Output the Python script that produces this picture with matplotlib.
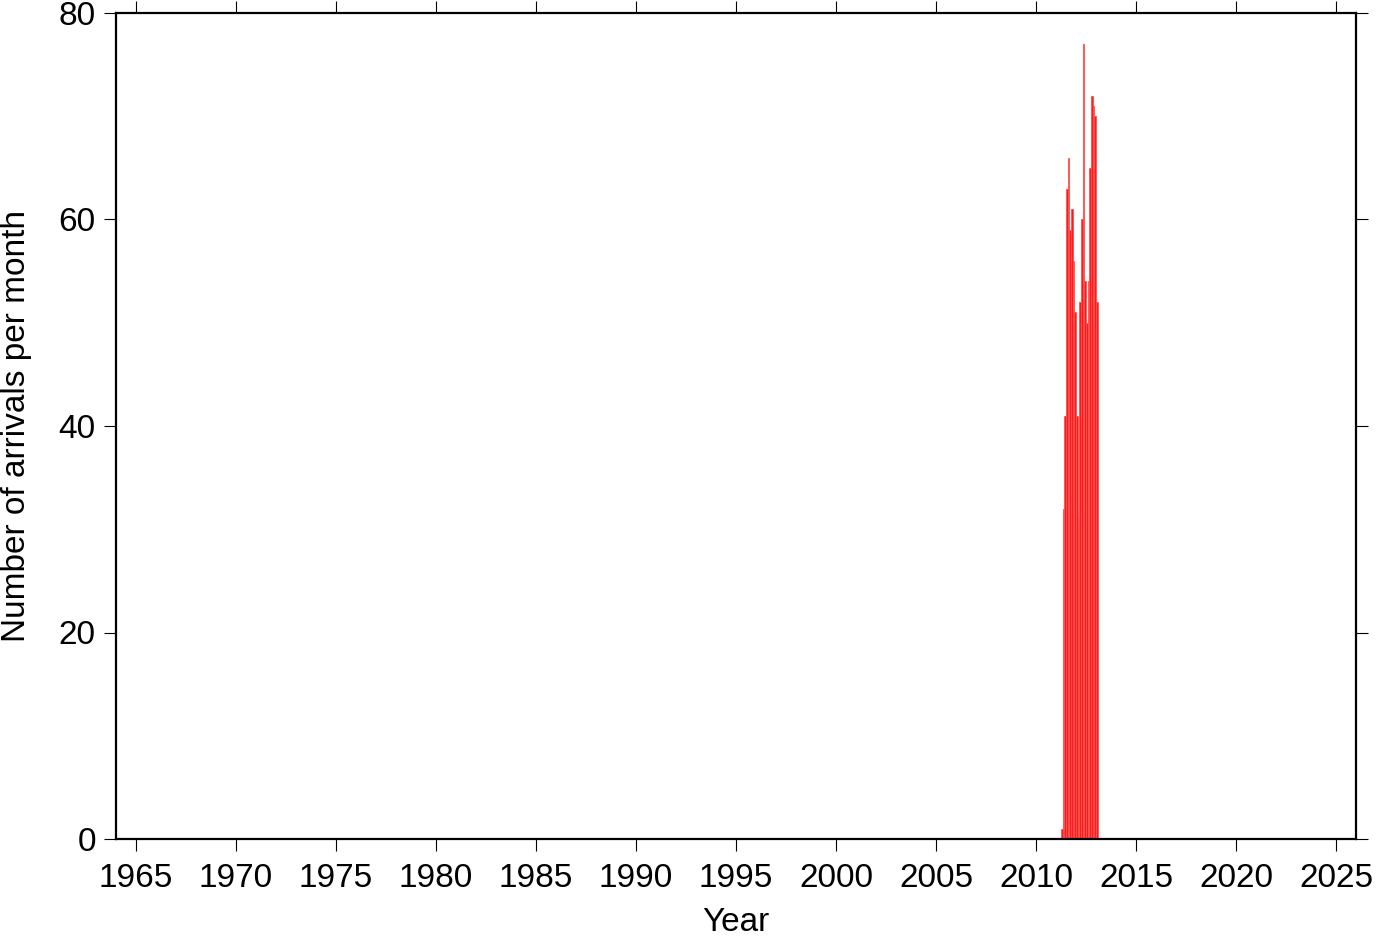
import matplotlib
matplotlib.use('Agg')
import matplotlib.pyplot as plt
import numpy as np

# monthly arrival counts, starting April 2011
start_year = 2011
start_month = 4
counts = [1, 32, 41, 63, 66, 59, 61, 56, 51, 41, 31, 52,
          60, 77, 54, 50, 54, 65, 72, 71, 70, 52]

xticks = list(range(1965, 2030, 5))
yticks = [0, 20, 40, 60, 80]

plt.rcParams['font.family'] = ['Liberation Sans', 'DejaVu Sans']

months = np.arange(len(counts))
x = start_year + (start_month - 1 + months) / 12.0

fig = plt.figure(figsize=(13.82, 9.42), dpi=100)
ax = fig.add_axes([116/1382, 1 - 839/942, (1356-116)/1382, (839-13)/942])

ax.bar(x, counts, width=1/12, align='edge', color='#ff1a1a',
       edgecolor='#ff5050', linewidth=0.6)

ax.set_xlim(1964, 2026)
ax.set_ylim(0, 80)
ax.set_xticks(xticks)
ax.set_yticks(yticks)
ax.tick_params(axis='both', which='major', direction='out', length=8.5, width=0.8,
               labelsize=24, top=True, right=True, labeltop=False, labelright=False)
ax.tick_params(axis='x', pad=9)
ax.tick_params(axis='y', pad=6)
for s in ax.spines.values():
    s.set_linewidth(1.6)

ax.set_xlabel('Year', fontsize=24, labelpad=9)
ax.set_ylabel('Number of arrivals per month', fontsize=24, labelpad=19)

fig.savefig('out.png', dpi=100)
